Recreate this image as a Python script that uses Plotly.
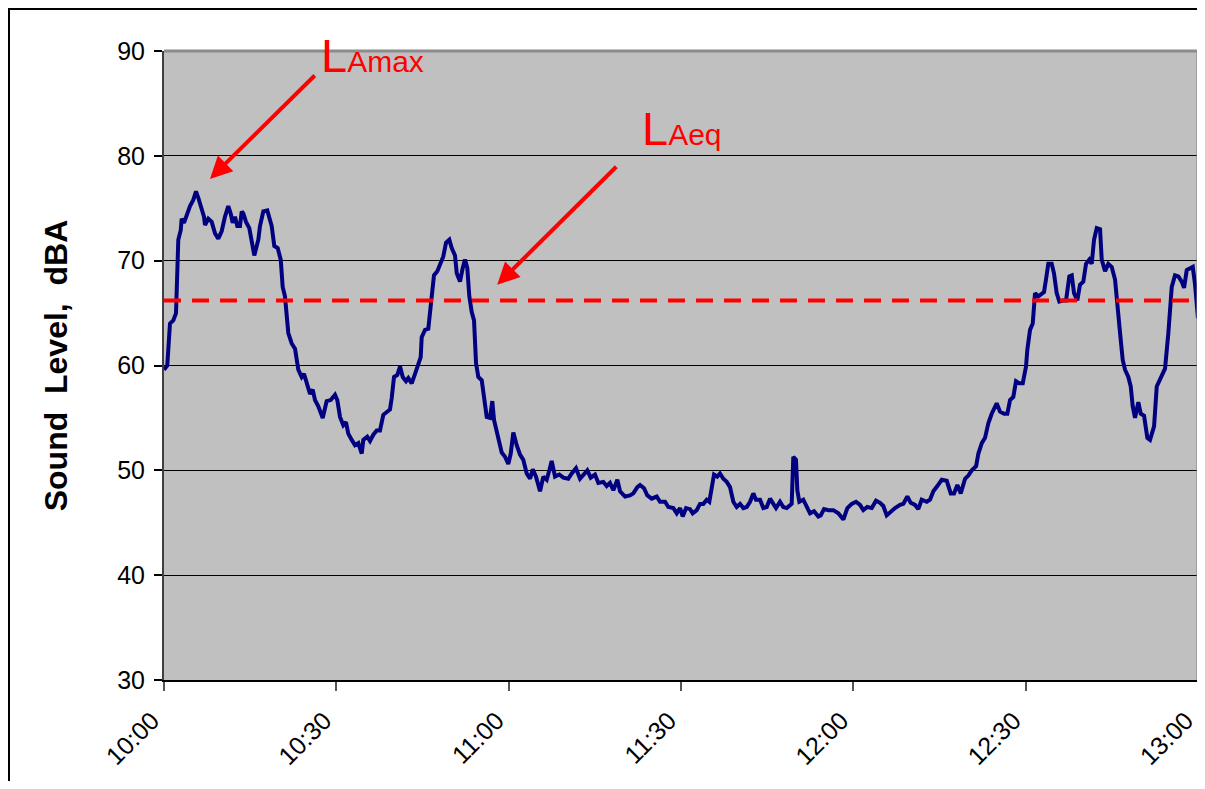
import plotly.graph_objects as go

# Time since 10:00 (minutes) and sound level (dBA)
minutes = [0.0, 0.57, 1.04, 1.62, 2.09, 2.32, 2.49, 2.91, 3.08, 3.48, 3.95, 4.53, 5.10, 5.57, 5.97, 6.39,
           6.96, 7.14, 7.71, 8.30, 8.88, 9.45, 10.04, 10.62, 11.19, 11.61, 11.96, 12.36, 12.76, 13.23,
           13.53, 13.81, 14.28, 14.85, 15.27, 15.72, 16.14, 16.42, 16.71, 17.29, 17.98, 18.75, 19.20,
           19.79, 20.32, 20.66, 21.06, 21.64, 22.23, 22.81, 23.38, 23.97, 24.37, 24.84, 25.42, 25.89,
           26.29, 26.86, 27.63, 28.32, 29.02, 29.77, 30.17, 30.64, 31.21, 31.68, 32.08, 32.68, 33.25,
           33.83, 34.42, 34.70, 35.39, 35.86, 36.44, 37.03, 37.60, 38.18, 38.77, 39.34, 39.64, 40.04,
           40.62, 41.09, 41.56, 42.13, 42.53, 43.12, 43.70, 44.27, 44.69, 44.86, 45.44, 46.01, 46.31,
           46.60, 47.00, 47.58, 48.05, 48.62, 49.09, 49.67, 50.09, 50.66, 50.96, 51.53, 52.00, 52.40,
           52.80, 53.15, 53.57, 53.97, 54.32, 54.72, 55.31, 55.88, 56.18, 56.75, 57.15, 57.45, 57.92,
           58.49, 58.79, 59.36, 59.94, 60.36, 60.81, 61.40, 61.98, 62.55, 63.14, 63.72, 64.19, 64.76,
           65.46, 66.03, 66.62, 67.08, 67.49, 68.07, 68.82, 69.51, 70.38, 70.98, 71.72, 72.42, 73.12,
           73.69, 74.28, 75.03, 75.61, 76.48, 77.07, 77.64, 78.22, 78.92, 79.39, 80.26, 81.13, 81.70,
           82.40, 82.87, 83.56, 84.14, 84.90, 85.77, 86.35, 87.22, 87.80, 88.67, 89.26, 89.83, 90.30,
           90.88, 91.58, 92.04, 92.74, 93.31, 93.89, 94.48, 94.93, 95.35, 95.75, 96.32, 96.79, 97.37,
           97.96, 98.53, 99.11, 99.70, 100.28, 100.85, 101.44, 102.02, 102.59, 103.06, 103.76, 104.33,
           104.92, 105.50, 106.07, 106.54, 107.24, 107.81, 108.40, 108.98, 109.27, 109.55, 110.02,
           110.25, 110.60, 111.29, 111.88, 112.46, 113.16, 113.91, 114.32, 114.90, 115.65, 116.52,
           117.39, 118.26, 118.96, 119.72, 120.47, 121.17, 121.74, 122.44, 123.20, 123.95, 124.65,
           125.22, 125.81, 126.39, 127.26, 128.13, 128.70, 129.40, 129.99, 130.74, 131.31, 131.90,
           132.78, 133.35, 133.93, 134.62, 135.39, 136.26, 136.96, 137.53, 138.11, 138.70, 139.45,
           140.02, 140.62, 141.37, 141.77, 142.36, 142.93, 143.51, 144.09, 144.96, 145.54, 146.24,
           146.81, 147.28, 147.85, 148.32, 148.90, 149.49, 150.06, 150.29, 150.76, 151.23, 151.63,
           152.20, 152.50, 153.19, 153.54, 153.94, 154.53, 154.93, 155.40, 155.86, 156.45, 157.03,
           157.60, 158.02, 158.42, 158.99, 159.46, 160.04, 160.51, 161.08, 161.50, 161.90, 162.37,
           162.95, 163.24, 163.82, 164.39, 164.98, 165.56, 165.96, 166.43, 166.90, 167.30, 167.87,
           168.29, 168.64, 169.04, 169.61, 170.03, 170.61, 171.18, 171.65, 172.35, 172.82, 173.51,
           174.26, 174.84, 175.43, 176.00, 176.58, 177.17, 177.57, 178.04, 178.61, 179.09, 179.49,
           180.0]

level_dba = [59.6, 60.0, 64.0, 64.3, 65.0, 68.2, 72.0, 72.9, 74.0, 73.6, 74.4, 75.2, 75.8, 76.6, 76.0, 75.2,
             74.2, 73.4, 74.0, 73.7, 72.6, 72.1, 72.8, 74.2, 75.2, 74.5, 73.6, 74.2, 73.3, 73.3,
             74.7, 74.5, 73.7, 73.1, 72.0, 70.5, 71.4, 72.0, 73.3, 74.7, 74.8, 73.3, 71.4,
             71.2, 70.1, 67.5, 66.6, 63.1, 62.1, 61.6, 59.6, 58.9, 59.2, 58.3, 57.3, 57.7,
             56.7, 56.1, 55.0, 56.6, 56.7, 57.2, 56.7, 55.1, 54.3, 54.6, 53.5, 52.9, 52.4,
             52.6, 51.6, 52.9, 53.2, 52.8, 53.4, 53.8, 53.8, 55.3, 55.6, 55.8, 56.9, 58.9,
             59.1, 59.9, 58.9, 58.5, 58.8, 58.3, 59.2, 60.2, 60.8, 62.7, 63.4, 63.5, 65.0,
             67.2, 68.6, 69.0, 69.7, 70.4, 71.7, 72.0, 71.2, 70.5, 68.8, 68.0, 69.3, 70.1,
             69.3, 66.6, 65.1, 64.3, 60.2, 58.9, 58.6, 56.4, 55.1, 55.0, 56.6, 54.8, 53.8,
             52.7, 51.7, 51.3, 50.6, 51.6, 53.6, 52.4, 51.5, 51.0, 49.7, 49.2, 50.1, 49.4,
             48.0, 49.4, 49.1, 50.0, 50.9, 49.4, 49.6, 49.3, 49.2, 49.7, 50.2, 49.2, 49.6,
             50.0, 49.3, 49.6, 48.8, 48.9, 48.5, 48.8, 48.1, 49.1, 48.0, 47.5, 47.6, 47.8,
             48.4, 48.6, 48.3, 47.6, 47.3, 47.5, 47.0, 47.0, 46.5, 46.4, 45.9, 46.4, 45.6,
             46.4, 46.3, 45.9, 46.2, 46.8, 46.8, 47.2, 47.0, 48.1, 49.6, 49.4, 49.7, 49.2,
             48.9, 48.4, 47.0, 46.5, 46.8, 46.4, 46.5, 47.0, 47.8, 47.2, 47.2, 46.4,
             46.5, 47.3, 46.7, 46.4, 47.0, 46.5, 46.4, 46.7, 46.8, 51.3, 51.0,
             48.1, 47.0, 47.2, 46.5, 45.9, 46.1, 45.6, 45.7, 46.3, 46.2, 46.2,
             45.9, 45.3, 46.4, 46.8, 47.0, 46.7, 46.2, 46.5, 46.4, 47.1, 46.9,
             46.6, 45.7, 46.0, 46.4, 46.7, 46.8, 47.5, 46.9, 46.7, 46.3, 47.2,
             47.0, 47.2, 48.0, 48.5, 49.1, 49.0, 47.8, 47.8, 48.6, 47.8, 49.2,
             49.5, 50.0, 50.4, 51.6, 52.6, 53.1, 54.5, 55.4, 56.4, 55.6, 55.4,
             55.4, 56.7, 57.0, 58.5, 58.3, 58.3, 59.9, 61.5, 63.4, 64.0, 66.9,
             66.6, 66.7, 67.0, 68.2, 69.7, 69.7, 68.8, 66.9, 66.1, 66.2, 66.2,
             68.5, 68.6, 66.9, 66.2, 67.7, 68.0, 69.7, 70.1, 69.7, 72.0, 73.1,
             73.0, 70.1, 69.0, 69.7, 69.4, 68.2, 66.2, 63.1, 60.5, 59.6, 58.9,
             58.0, 56.1, 55.0, 56.5, 55.4, 55.2, 53.1, 52.9, 54.2, 58.0, 58.9,
             59.7, 63.1, 67.5, 68.6, 68.5, 68.0, 67.4, 69.1, 69.3, 69.4, 67.7,
             64.5]

laeq_value = 66.2
tick_minutes = [0, 30, 60, 90, 120, 150, 180]
tick_labels = ["10:00", "10:30", "11:00", "11:30", "12:00", "12:30", "13:00"]
y_ticks = [30, 40, 50, 60, 70, 80, 90]

FONT = "Liberation Sans, Arial, sans-serif"

fig = go.Figure()

fig.add_trace(go.Scatter(
    x=minutes, y=level_dba, mode="lines",
    line=dict(color="#000080", width=4),
    showlegend=False, hoverinfo="skip"))

fig.add_trace(go.Scatter(
    x=[tick_minutes[0], tick_minutes[-1]], y=[laeq_value, laeq_value], mode="lines",
    line=dict(color="#FF0000", width=4, dash="17px,11px"),
    showlegend=False, hoverinfo="skip"))

fig.update_layout(
    width=1197, height=773,
    margin=dict(l=156, r=7, t=43, b=101, autoexpand=False),
    paper_bgcolor="white",
    plot_bgcolor="#C0C0C0",
    font=dict(family=FONT, color="black", size=25),
    xaxis=dict(
        range=[0, 180], tickmode="array", tickvals=tick_minutes, ticktext=tick_labels,
        tickangle=-45, ticks="outside", ticklen=9, tickwidth=1.5, tickcolor="#555555",
        showgrid=False, zeroline=False, showline=True, linecolor="black", linewidth=2,
        ticklabeloverflow="allow", automargin=False, ticklabelshift=-12, ticklabelstandoff=5,
        tickfont=dict(size=25, family=FONT)),
    yaxis=dict(
        range=[30, 90], tickmode="array", tickvals=y_ticks,
        ticks="outside", ticklen=8, tickwidth=1.5, tickcolor="black",
        showgrid=True, gridcolor="black", gridwidth=1.3, zeroline=False,
        showline=True, linecolor="#404040", linewidth=2,
        ticklabelstandoff=4, automargin=False,
        tickfont=dict(size=25, family=FONT),
        title=dict(text="<b>Sound\u00a0\u00a0Level,\u00a0\u00a0dBA</b>",
                   font=dict(size=32, family=FONT), standoff=40)),
)

# plot area top / right borders (grey) and outer frame
fig.add_shape(type="line", xref="paper", yref="paper", x0=0, x1=1, y0=1, y1=1,
              line=dict(color="#8C8C8C", width=3))
fig.add_shape(type="line", xref="paper", yref="paper", x0=1, x1=1, y0=0, y1=1,
              line=dict(color="#808080", width=3))
fig.add_shape(type="rect", xref="paper", yref="paper",
              x0=-0.1499, x1=1.05, y0=-0.2, y1=1.0668,
              line=dict(color="black", width=2), layer="below")

# labels
fig.add_annotation(x=27.0, y=86.9, xref="x", yref="y", xanchor="left", yanchor="bottom",
                   text="L<span style='font-size:30px'>Amax</span>", showarrow=False,
                   font=dict(size=47, color="#FF0000", family=FONT))
fig.add_annotation(x=82.8, y=79.9, xref="x", yref="y", xanchor="left", yanchor="bottom",
                   text="L<span style='font-size:30px'>Aeq</span>", showarrow=False,
                   font=dict(size=47, color="#FF0000", family=FONT))

# arrows
fig.add_annotation(x=8.0, y=77.8, ax=26.5, ay=87.8, xref="x", yref="y", axref="x", ayref="y",
                   text="", showarrow=True, arrowhead=2, arrowsize=1.1, arrowwidth=4,
                   arrowcolor="#FF0000")
fig.add_annotation(x=58.0, y=67.7, ax=79.0, ay=79.1, xref="x", yref="y", axref="x", ayref="y",
                   text="", showarrow=True, arrowhead=2, arrowsize=1.1, arrowwidth=4,
                   arrowcolor="#FF0000")

fig.write_html("out.html")
